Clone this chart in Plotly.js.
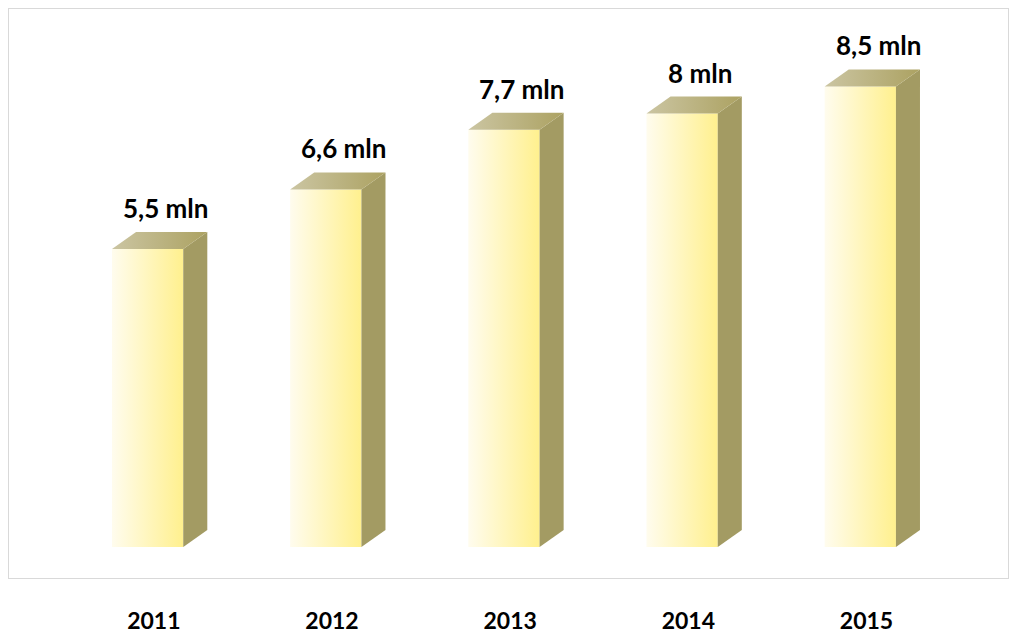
<!DOCTYPE html>
<html>
<head>
<meta charset="utf-8">
<script src="https://cdn.plot.ly/plotly-3.0.1.min.js"></script>
<style>html,body{margin:0;padding:0;background:#fff;}#chart{width:1010px;height:634px;}</style>
</head>
<body>
<div id="chart"></div>
<script>
const years = ['2011', '2012', '2013', '2014', '2015'];
const values = [5.5, 6.6, 7.7, 8, 8.5];
const valueLabels = ['5,5 mln', '6,6 mln', '7,7 mln', '8 mln', '8,5 mln'];

const halfW = 0.2;   // front face half width (x units)
const dx = 0.135;    // depth offset x (units)
const dy = 0.314;    // depth offset y (units)

const traces = [];
values.forEach((v, i) => {
  const x0 = i - halfW, x1 = i + halfW;
  // front face
  traces.push({
    type: 'scatter', mode: 'lines', line: {width: 0}, hoverinfo: 'skip', showlegend: false,
    x: [x0, x1, x1, x0, x0], y: [0, 0, v, v, 0],
    fill: 'toself',
    fillgradient: {type: 'horizontal', colorscale: [[0, '#fffcee'], [1, '#fff08e']]}
  });
  // side face
  traces.push({
    type: 'scatter', mode: 'lines', line: {width: 0}, hoverinfo: 'skip', showlegend: false,
    x: [x1, x1 + dx, x1 + dx, x1, x1], y: [0, dy, v + dy, v, 0],
    fill: 'toself', fillcolor: '#a39b63'
  });
  // top face
  traces.push({
    type: 'scatter', mode: 'lines', line: {width: 0}, hoverinfo: 'skip', showlegend: false,
    x: [x0, x1, x1 + dx, x0 + dx, x0], y: [v, v, v + dy, v + dy, v],
    fill: 'toself',
    fillgradient: {type: 'horizontal', colorscale: [[0, '#cbc5a2'], [1, '#aca262']]}
  });
});

const annotations = values.map((v, i) => ({
  x: i + 0.1, y: v + dy, xref: 'x', yref: 'y',
  text: '<b>' + valueLabels[i] + '</b>', showarrow: false,
  yanchor: 'middle', yshift: 24,
  font: {family: 'Lato, sans-serif', size: 26, color: '#000'}
}));

const layout = {
  width: 1010, height: 634,
  margin: {l: 9, r: 2, t: 9, b: 56},
  paper_bgcolor: '#fff', plot_bgcolor: '#fff',
  showlegend: false,
  xaxis: {
    range: [-0.778, 4.829], showgrid: false, zeroline: false,
    tickvals: years.map((y, i) => i + 0.035), ticktext: years.map(y => '<b>' + y + '</b>'),
    ticks: '', ticklabelstandoff: 22,
    tickfont: {family: 'Lato, sans-serif', size: 23, color: '#000'},
    showline: true, mirror: true, linecolor: '#d9d9d9', linewidth: 1, fixedrange: true
  },
  yaxis: {
    range: [-0.572, 9.93], showgrid: false, zeroline: false, showticklabels: false,
    showline: true, mirror: true, linecolor: '#d9d9d9', linewidth: 1, fixedrange: true
  },
  annotations: annotations
};

Plotly.newPlot('chart', traces, layout, {displayModeBar: false, staticPlot: true});
</script>
</body>
</html>
